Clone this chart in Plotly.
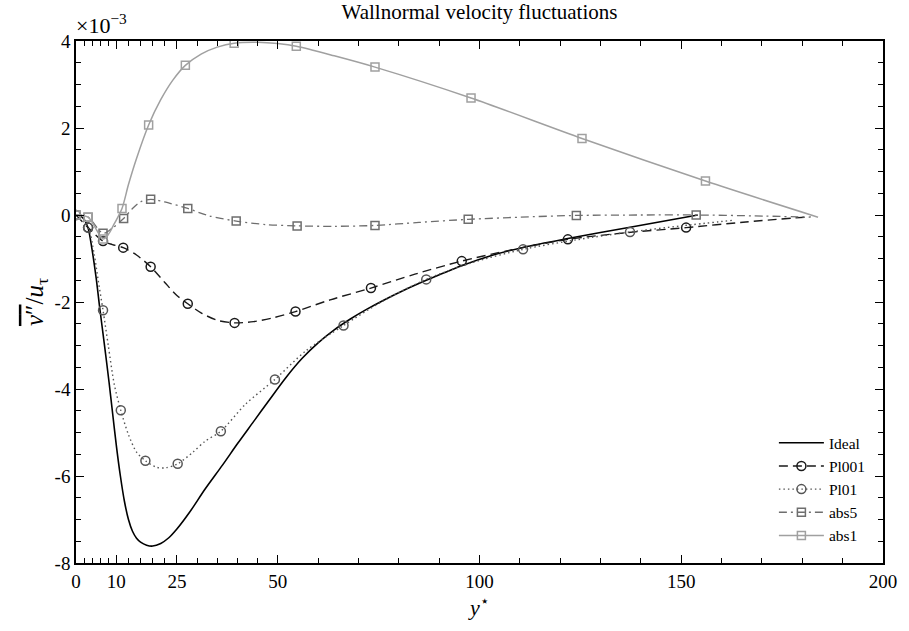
import plotly.graph_objects as go

# ---------------- data (y in units of 1e-3) ----------------
ideal_x = [0, 1, 2, 3, 3.9, 5, 5.9, 7, 8.2, 9, 10, 11, 12, 13, 14, 15, 16, 17.5, 19, 21, 23, 25,
           28.1, 32, 36.3, 40, 44, 48, 52, 56, 60, 64, 68, 72, 76, 81, 86.8, 95.4, 103, 111, 121.9,
           137.3, 154.1]
ideal_y = [0, -0.02, -0.1, -0.3, -0.75, -1.45, -2.15, -2.95, -3.85, -4.5, -5.3, -6.0, -6.58, -7.0,
           -7.27, -7.43, -7.52, -7.59, -7.61, -7.55, -7.42, -7.22, -6.84, -6.3, -5.75, -5.26, -4.75,
           -4.24, -3.74, -3.3, -2.94, -2.64, -2.39, -2.17, -1.97, -1.74, -1.5, -1.17, -0.93, -0.74,
           -0.54, -0.28, 0.0]

pl001_x = [0, 3, 6.7, 9, 11.7, 15, 18.5, 22, 25, 27.7, 31, 35, 39.3, 44, 49, 54.4, 63, 73.1, 84,
           95.6, 108, 121.9, 136, 151.2, 166, 182]
pl001_y = [0, -0.29, -0.6, -0.68, -0.75, -0.92, -1.19, -1.55, -1.85, -2.04, -2.25, -2.42, -2.48,
           -2.45, -2.36, -2.22, -1.95, -1.68, -1.36, -1.06, -0.8, -0.56, -0.41, -0.29, -0.16, -0.04]
pl001_mx = [0, 3, 6.7, 11.7, 18.5, 27.7, 39.3, 54.4, 73.1, 95.6, 121.9, 151.2]
pl001_my = [0, -0.29, -0.6, -0.75, -1.19, -2.04, -2.48, -2.22, -1.68, -1.06, -0.56, -0.29]

pl01_x = [0, 3, 4.5, 5.5, 6.7, 8, 9.5, 11.1, 13, 15, 17.2, 20, 22.3, 25.2, 29, 32, 35.9, 42, 49.3,
          57, 66.3, 76, 86.8, 98, 110.8, 124, 137.3, 150, 163]
pl01_y = [0, -0.29, -0.9, -1.5, -2.19, -3.0, -3.9, -4.49, -5.05, -5.45, -5.65, -5.8, -5.81, -5.72,
          -5.45, -5.2, -4.97, -4.35, -3.78, -3.12, -2.54, -1.98, -1.48, -1.1, -0.79, -0.57, -0.39,
          -0.25, -0.12]
pl01_mx = [0, 3, 6.7, 11.1, 17.2, 25.2, 35.9, 49.3, 66.3, 86.8, 110.8, 137.3]
pl01_my = [0, -0.29, -2.19, -4.49, -5.65, -5.72, -4.97, -3.78, -2.54, -1.48, -0.79, -0.39]

abs5_x = [0, 3, 6.7, 9, 11.8, 14, 16, 18.5, 22, 27.7, 33, 39.7, 47, 54.8, 64, 74.1, 85, 97.2, 110,
          124, 140, 153.7, 168, 182]
abs5_y = [0, -0.05, -0.42, -0.3, -0.08, 0.15, 0.3, 0.36, 0.3, 0.15, -0.02, -0.14, -0.22, -0.25,
          -0.26, -0.24, -0.17, -0.1, -0.05, -0.01, 0.0, 0.0, -0.02, -0.05]
abs5_mx = [0, 3, 6.7, 11.8, 18.5, 27.7, 39.7, 54.8, 74.1, 97.2, 124, 153.7]
abs5_my = [0, -0.05, -0.42, -0.08, 0.36, 0.15, -0.14, -0.25, -0.24, -0.1, -0.01, 0.0]

abs1_x = [0, 3, 6.7, 8, 9.5, 11.4, 13, 15, 18, 21, 24, 27.1, 31, 35, 39.2, 45, 50, 54.6, 64, 74.1,
          97.9, 125.4, 156, 183.9]
abs1_y = [0, -0.05, -0.55, -0.45, -0.2, 0.15, 0.7, 1.3, 2.07, 2.65, 3.1, 3.44, 3.7, 3.86, 3.95,
          3.97, 3.94, 3.88, 3.66, 3.4, 2.69, 1.76, 0.78, -0.05]
abs1_mx = [0, 3, 6.7, 11.4, 18, 27.1, 39.2, 54.6, 74.1, 97.9, 125.4, 156]
abs1_my = [0, -0.05, -0.55, 0.15, 2.07, 3.44, 3.95, 3.88, 3.4, 2.69, 1.76, 0.78]

x_major = [0, 10, 25, 50, 100, 150, 200]
x_minor = [2, 4, 6, 8, 13, 16, 19, 22, 30, 35, 40, 45, 60, 70, 80, 90, 110, 120, 130, 140,
           160, 170, 180, 190]
y_major = [-8, -6, -4, -2, 0, 2, 4]
y_labels = ['-8', '-6', '-4', '-2', '0', '2', '4']

FONT = "Liberation Serif"

series = [
    dict(name="Ideal", x=ideal_x, y=ideal_y, mx=None, my=None, color="black",
         dash="solid", width=1.6, symbol=None, msize=0),
    dict(name="Pl001", x=pl001_x, y=pl001_y, mx=pl001_mx, my=pl001_my, color="#1a1a1a",
         dash="9px,5px", width=1.4, symbol="circle-open", msize=9),
    dict(name="Pl01", x=pl01_x, y=pl01_y, mx=pl01_mx, my=pl01_my, color="#555555",
         dash="1.5px,3px", width=1.4, symbol="circle-open", msize=9),
    dict(name="abs5", x=abs5_x, y=abs5_y, mx=abs5_mx, my=abs5_my, color="#6e6e6e",
         dash="8px,4px,2px,4px", width=1.3, symbol="square-open", msize=8),
    dict(name="abs1", x=abs1_x, y=abs1_y, mx=abs1_mx, my=abs1_my, color="#a0a0a0",
         dash="solid", width=1.5, symbol="square-open", msize=8),
]

fig = go.Figure()
for s in series:
    fig.add_trace(go.Scatter(x=s["x"], y=s["y"], mode="lines", legendgroup=s["name"],
                             showlegend=False, hoverinfo="skip",
                             line=dict(color=s["color"], width=s["width"], dash=s["dash"],
                                       shape="spline", smoothing=0.8)))
    if s["mx"] is not None:
        fig.add_trace(go.Scatter(x=s["mx"], y=s["my"], mode="markers", legendgroup=s["name"],
                                 showlegend=False,
                                 marker=dict(symbol=s["symbol"], size=s["msize"], color=s["color"],
                                             line=dict(width=1.5, color=s["color"]))))
    mode = "lines" if s["mx"] is None else "lines+markers"
    fig.add_trace(go.Scatter(x=[None], y=[None], mode=mode, name=s["name"], legendgroup=s["name"],
                             line=dict(color=s["color"], width=s["width"], dash=s["dash"]),
                             marker=dict(symbol=s["symbol"] or "circle", size=s["msize"] or 1,
                                         color=s["color"], line=dict(width=1.5, color=s["color"]))))

axis_common = dict(showline=True, linecolor="black", linewidth=1.5, mirror="allticks",
                   ticks="inside", tickcolor="black", tickwidth=1.2, ticklen=8,
                   showgrid=False, zeroline=False,
                   tickfont=dict(family=FONT, size=19, color="black"))

fig.update_xaxes(range=[0, 200], tickmode="array", tickvals=x_major,
                 ticktext=[str(v) for v in x_major],
                 minor=dict(tickmode="array", tickvals=x_minor, ticks="inside", ticklen=5,
                            tickcolor="black", tickwidth=1.2, showgrid=False),
                 title=dict(text="<i>y</i><sup>⋆</sup>", font=dict(family=FONT, size=22, color="black"),
                            standoff=4),
                 **axis_common)
fig.update_yaxes(range=[-8, 4], tickmode="array", tickvals=y_major, ticktext=y_labels,
                 minor=dict(dtick=0.5, tick0=0, ticks="inside", ticklen=5,
                            tickcolor="black", tickwidth=1.2, showgrid=False),
                 title=dict(text="<span style='text-decoration:overline'><i>v</i>″</span>/<i>u</i><sub>τ</sub>",
                            font=dict(family=FONT, size=25, color="black"), standoff=4),
                 **axis_common)

fig.add_annotation(text="×10<sup>−3</sup>", xref="paper", yref="paper", x=0, y=1,
                   xanchor="left", yanchor="bottom", yshift=1, xshift=-2, showarrow=False,
                   font=dict(family=FONT, size=22, color="black"))

fig.update_layout(
    width=909, height=631,
    margin=dict(l=76, r=21, t=41, b=68),
    paper_bgcolor="white", plot_bgcolor="white",
    title=dict(text="Wallnormal velocity fluctuations", x=0.5, xref="paper",
               y=1 - 12 / 631, yref="container", yanchor="middle",
               font=dict(family=FONT, size=21, color="black")),
    font=dict(family=FONT, color="black"),
    legend=dict(x=0.985, y=0.262, xanchor="right", yanchor="top",
                bgcolor="rgba(0,0,0,0)", borderwidth=0,
                traceorder="grouped", tracegroupgap=0,
                font=dict(family=FONT, size=15.5, color="black"), itemwidth=45),
)

fig.write_html("out.html")
